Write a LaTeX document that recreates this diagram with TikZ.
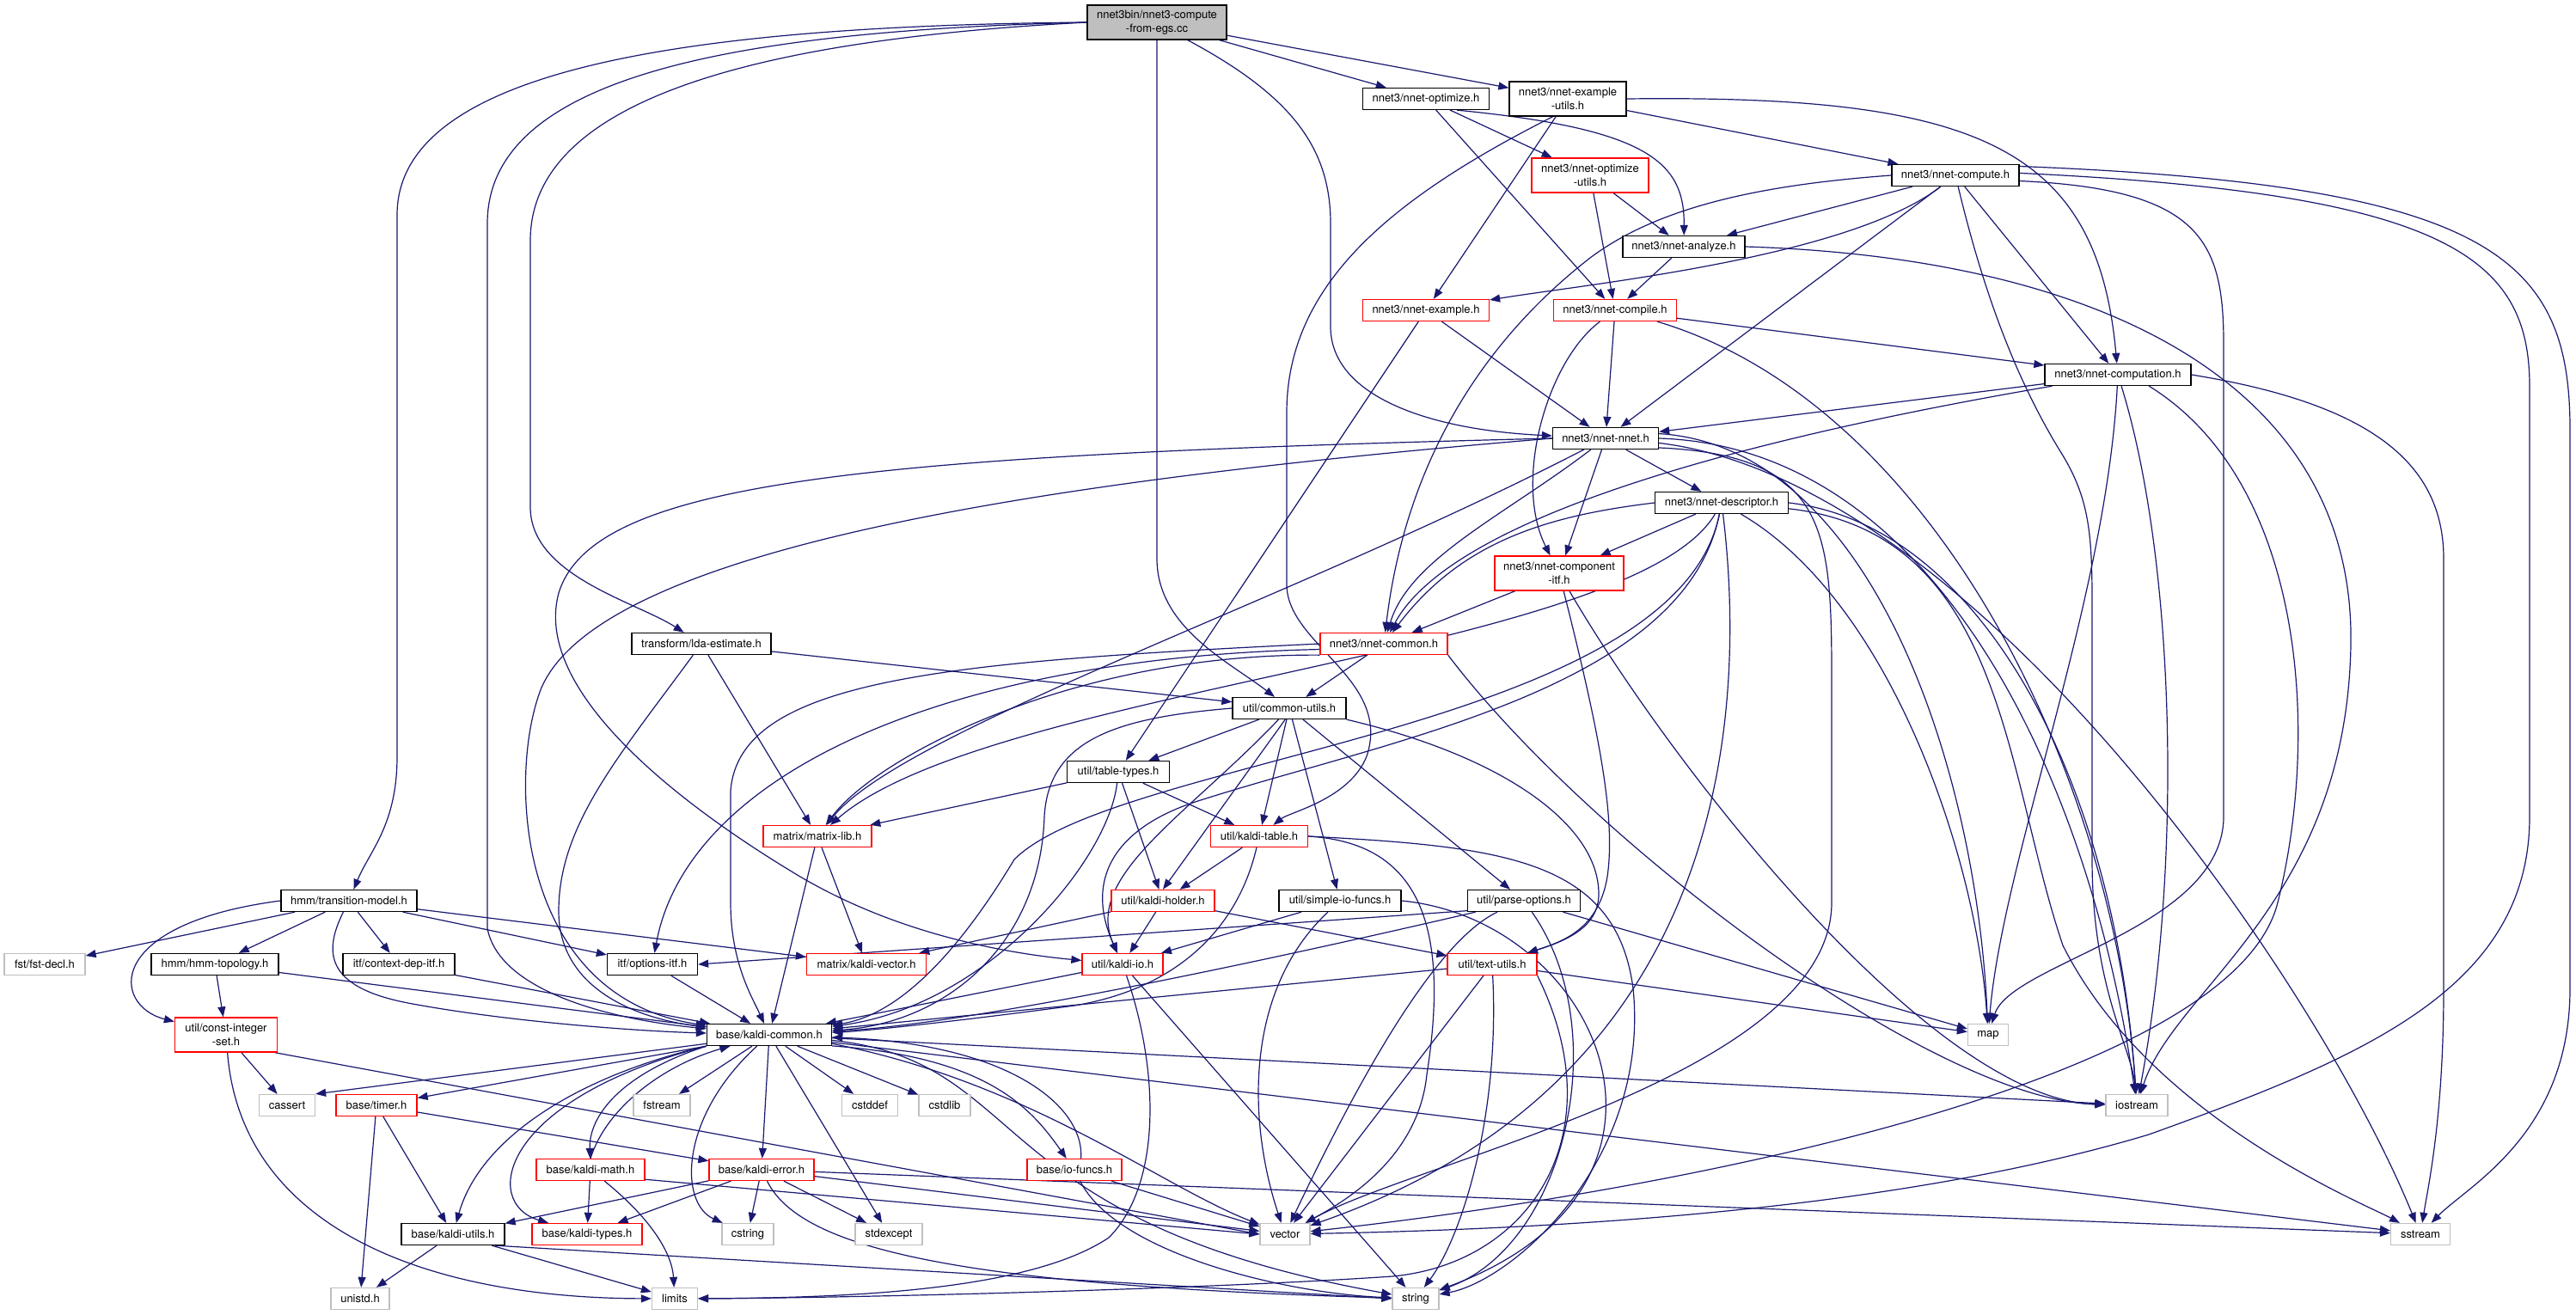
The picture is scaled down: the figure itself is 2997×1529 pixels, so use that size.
\documentclass[tikz,border=0pt]{standalone}
\usepackage{fontspec}
\setmainfont{TeX Gyre Heros}
\usetikzlibrary{arrows.meta,backgrounds}
\definecolor{edgec}{HTML}{191970}
\definecolor{lgray}{HTML}{BFBFBF}
\definecolor{rootfill}{HTML}{BFBFBF}
\tikzset{
  bx/.style={draw=black, line width=1.3pt, fill=white, font=\fontsize{13}{15.5}\selectfont, inner xsep=2pt, inner ysep=0pt, minimum height=25pt, align=center, text=black},
  rbx/.style={bx, draw=red},
  gbx/.style={bx, draw=lgray},
  two/.style={minimum height=40pt},
  edg/.style={draw=edgec, line width=1.2pt, -{Triangle[length=12pt,width=9pt]}},
}
\begin{document}
\begin{tikzpicture}[x=1pt,y=-1pt]
\useasboundingbox (0,0) rectangle (2997,1529);
% ---------------- nodes ----------------
\node[bx, fill=rootfill, two, minimum width=162pt] (root) at (1346,26) {nnet3bin/nnet3-compute\\-from-egs.cc};
\node[bx, minimum width=147pt] (opt) at (1659,115) {nnet3/nnet-optimize.h};
\node[bx, two, minimum width=136pt] (exutils) at (1824,115) {nnet3/nnet-example\\-utils.h};
\node[rbx, two, minimum width=136pt] (optutils) at (1850,204) {nnet3/nnet-optimize\\-utils.h};
\node[bx, minimum width=148pt] (compute) at (2275,204) {nnet3/nnet-compute.h};
\node[bx, minimum width=142pt] (analyze) at (1959,287) {nnet3/nnet-analyze.h};
\node[rbx, minimum width=147pt] (example) at (1659,361) {nnet3/nnet-example.h};
\node[rbx, minimum width=143pt] (compile) at (1879,361) {nnet3/nnet-compile.h};
\node[bx, minimum width=170pt] (computation) at (2464,436) {nnet3/nnet-computation.h};
\node[bx, minimum width=123pt] (nnet) at (1868,510) {nnet3/nnet-nnet.h};
\node[bx, minimum width=155pt] (descriptor) at (2003,585) {nnet3/nnet-descriptor.h};
\node[rbx, two, minimum width=150pt] (compitf) at (1814,667) {nnet3/nnet-component\\-itf.h};
\node[rbx, minimum width=148pt] (common) at (1610,749) {nnet3/nnet-common.h};
\node[bx, minimum width=162pt] (lda) at (816,749) {transform/lda-estimate.h};
\node[bx, minimum width=132pt] (cutils) at (1500,824) {util/common-utils.h};
\node[bx, minimum width=119pt] (ttypes) at (1301,898) {util/table-types.h};
\node[rbx, minimum width=126pt] (mlib) at (951,973) {matrix/matrix-lib.h};
\node[rbx, minimum width=113pt] (ktable) at (1465,973) {util/kaldi-table.h};
\node[bx, minimum width=158pt] (tmodel) at (406,1048) {hmm/transition-model.h};
\node[rbx, minimum width=120pt] (holder) at (1353,1048) {util/kaldi-holder.h};
\node[bx, minimum width=142pt] (simpleio) at (1559,1048) {util/simple-io-funcs.h};
\node[bx, minimum width=131pt] (parseopt) at (1773,1048) {util/parse-options.h};
\node[gbx, minimum width=94pt] (fstdecl) at (52,1122) {fst/fst-decl.h};
\node[bx, minimum width=148pt] (topo) at (250,1122) {hmm/hmm-topology.h};
\node[bx, minimum width=130pt] (ctxdep) at (464,1122) {itf/context-dep-itf.h};
\node[bx, minimum width=105pt] (optitf) at (759,1122) {itf/options-itf.h};
\node[rbx, minimum width=139pt] (kvector) at (1008,1122) {matrix/kaldi-vector.h};
\node[rbx, minimum width=94pt] (kio) at (1306,1122) {util/kaldi-io.h};
\node[rbx, minimum width=104pt] (textutils) at (1736,1122) {util/text-utils.h};
\node[rbx, two, minimum width=119pt] (cintset) at (263,1204) {util/const-integer\\-set.h};
\node[bx, minimum width=145pt] (kcommon) at (895,1204) {base/kaldi-common.h};
\node[gbx, minimum width=47pt] (map) at (2313,1204) {map};
\node[gbx, minimum width=65pt] (cassert) at (334,1286) {cassert};
\node[rbx, minimum width=94pt] (timer) at (438,1286) {base/timer.h};
\node[gbx, minimum width=66pt] (fstream) at (770,1286) {fstream};
\node[gbx, minimum width=65pt] (cstddef) at (1012,1286) {cstddef};
\node[gbx, minimum width=60pt] (cstdlib) at (1099,1286) {cstdlib};
\node[gbx, minimum width=72pt] (iostream) at (2486,1286) {iostream};
\node[rbx, minimum width=126pt] (kmath) at (687,1361) {base/kaldi-math.h};
\node[rbx, minimum width=122pt] (kerror) at (886,1361) {base/kaldi-error.h};
\node[rbx, minimum width=110pt] (iofuncs) at (1250,1361) {base/io-funcs.h};
\node[bx, minimum width=120pt] (kutils) at (527,1436) {base/kaldi-utils.h};
\node[rbx, minimum width=128pt] (ktypes) at (683,1436) {base/kaldi-types.h};
\node[gbx, minimum width=60pt] (cstring) at (870,1436) {cstring};
\node[gbx, minimum width=78pt] (stdexcept) at (1034,1436) {stdexcept};
\node[gbx, minimum width=58pt] (vector) at (1495,1436) {vector};
\node[gbx, minimum width=69pt] (sstream) at (2816,1436) {sstream};
\node[gbx, minimum width=68pt] (unistd) at (419,1511) {unistd.h};
\node[gbx, minimum width=53pt] (limits) at (785,1511) {limits};
\node[gbx, minimum width=54pt] (string) at (1647,1511) {string};
% ---------------- edges ----------------
\begin{pgfonlayer}{background}
\fill[white] (0,0) rectangle (2997,1529);
% root
\draw[edg] (root) -- (opt);
\draw[edg] (root) -- (exutils);
\draw[edg] (root.west) .. controls (800,30) and (462,80) .. (462,250) -- (462,880) .. controls (462,960) and (430,990) .. (tmodel);
\draw[edg] (root.west) .. controls (850,36) and (567,90) .. (567,260) -- (567,1080) .. controls (580,1150) and (700,1185) .. (kcommon);
\draw[edg] (root.west) .. controls (900,45) and (617,110) .. (617,280) -- (617,590) .. controls (617,670) and (740,700) .. (lda);
\draw[edg] (root.south) -- (1346,650) .. controls (1346,730) and (1430,770) .. (cutils);
\draw[edg] (root.-30) .. controls (1500,110) and (1548,170) .. (1548,260) -- (1548,380) .. controls (1548,460) and (1660,500) .. (nnet);
% nnet-optimize
\draw[edg] (opt) -- (optutils);
\draw[edg] (opt) -- (compile);
\draw[edg] (opt.-20) .. controls (1920,150) and (1960,190) .. (analyze);
% nnet-example-utils
\draw[edg] (exutils) -- (example);
\draw[edg] (exutils) -- (compute);
\draw[edg] (exutils.east) .. controls (2300,110) and (2440,170) .. (computation);
\draw[edg] (exutils.-130) .. controls (1620,230) and (1497,330) .. (1497,480) -- (1497,680) .. controls (1497,750) and (1620,790) .. (1590,880) .. controls (1570,930) and (1500,945) .. (ktable);
% nnet-optimize-utils
\draw[edg] (optutils) -- (analyze);
\draw[edg] (optutils) -- (compile);
% nnet-compute
\draw[edg] (compute) -- (analyze);
\draw[edg] (compute) .. controls (2150,300) and (1850,330) .. (example);
\draw[edg] (compute.west) .. controls (2050,215) and (1930,240) .. (1850,300) .. controls (1760,370) and (1640,500) .. (common);
\draw[edg] (compute) -- (nnet);
\draw[edg] (compute) -- (computation);
\draw[edg] (compute) .. controls (2310,350) and (2350,450) .. (2400,530) .. controls (2430,580) and (2434,620) .. (2434,700) -- (2434,1000) .. controls (2434,1150) and (2480,1220) .. (iostream);
\draw[edg] (compute.-5) .. controls (2560,220) and (2587,280) .. (2587,400) -- (2587,950) .. controls (2587,1080) and (2340,1120) .. (map);
\draw[edg] (compute.2) .. controls (2850,225) and (2943,300) .. (2943,450) -- (2943,950) .. controls (2943,1150) and (2750,1230) .. (2500,1320) .. controls (2200,1410) and (1800,1430) .. (vector);
\draw[edg] (compute.8) .. controls (2900,215) and (2990,300) .. (2990,500) -- (2990,1150) .. controls (2990,1320) and (2870,1380) .. (sstream);
% nnet-computation
\draw[edg] (computation) -- (nnet);
\draw[edg] (computation) .. controls (2150,490) and (1700,580) .. (common);
\draw[edg] (computation) .. controls (2450,700) and (2330,1000) .. (map);
\draw[edg] (computation) .. controls (2530,650) and (2540,1000) .. (iostream);
\draw[edg] (computation.-20) .. controls (2680,560) and (2700,850) .. (2650,1050) .. controls (2600,1250) and (2000,1380) .. (vector);
\draw[edg] (computation.east) .. controls (2760,470) and (2843,540) .. (2843,650) -- (2843,1150) .. controls (2843,1300) and (2825,1380) .. (sstream);
% nnet-nnet
\draw[edg] (nnet.west) .. controls (1200,560) and (700,640) .. (630,800) .. controls (590,900) and (600,1160) .. (kcommon);
\draw[edg] (nnet.west) .. controls (1000,530) and (690,560) .. (650,690) .. controls (620,800) and (780,930) .. (931,1020) .. controls (1050,1090) and (1180,1110) .. (kio);
\draw[edg] (nnet) .. controls (1500,700) and (1050,850) .. (mlib);
\draw[edg] (nnet) .. controls (1750,600) and (1640,650) .. (common);
\draw[edg] (nnet) -- (compitf);
\draw[edg] (nnet) -- (descriptor);
\draw[edg] (nnet.5) .. controls (2180,520) and (2300,900) .. (map);
\draw[edg] (nnet.0) .. controls (2250,520) and (2430,900) .. (iostream);
\draw[edg] (nnet.-5) .. controls (2300,560) and (2700,1150) .. (sstream);
\draw[edg] (nnet.-10) .. controls (2130,530) and (2131,620) .. (2131,800) -- (2131,1050) .. controls (2131,1250) and (1650,1350) .. (vector);
% nnet-descriptor
\draw[edg] (descriptor) -- (compitf);
\draw[edg] (descriptor.west) .. controls (1800,600) and (1700,630) .. (common);
\draw[edg] (descriptor) .. controls (1900,760) and (1150,800) .. (mlib);
\draw[edg] (descriptor) .. controls (1960,800) and (1620,860) .. (1400,930) .. controls (1300,960) and (1260,1020) .. (kio);
\draw[edg] (descriptor) .. controls (1950,850) and (1300,880) .. (1180,1000) .. controls (1120,1100) and (1050,1180) .. (kcommon);
\draw[edg] (descriptor.east) .. controls (2300,610) and (2460,900) .. (iostream);
\draw[edg] (descriptor.-5) .. controls (2332,620) and (2332,900) .. (2400,1100) .. controls (2500,1300) and (2750,1400) .. (sstream);
\draw[edg] (descriptor) .. controls (2029,800) and (2029,1250) .. (vector);
\draw[edg] (descriptor) .. controls (2200,700) and (2300,1000) .. (map);
% nnet-component-itf
\draw[edg] (compitf) -- (common);
\draw[edg] (compitf) .. controls (1860,850) and (1880,950) .. (1870,1020) .. controls (1860,1080) and (1820,1095) .. (textutils);
\draw[edg] (compitf.-60) .. controls (1950,900) and (2250,1280) .. (iostream);
% nnet-common
\draw[edg] (common) -- (cutils);
\draw[edg] (common.south east) .. controls (1850,980) and (2250,1280) .. (iostream);
\draw[edg] (common.west) .. controls (1100,770) and (860,790) .. (850,920) -- (850,1050) .. controls (850,1120) and (875,1160) .. (kcommon);
\draw[edg] (common.-175) .. controls (1100,765) and (800,900) .. (optitf);
\draw[edg] (common.-170) .. controls (1250,760) and (1020,880) .. (mlib);
% lda-estimate
\draw[edg] (lda) -- (cutils);
\draw[edg] (lda) -- (mlib);
\draw[edg] (lda) .. controls (720,880) and (650,960) .. (650,1060) .. controls (650,1150) and (740,1185) .. (kcommon);
% common-utils
\draw[edg] (cutils) -- (ttypes);
\draw[edg] (cutils.-110) -- (holder.north);
\draw[edg] (cutils) .. controls (1380,950) and (1260,1020) .. (kio);
\draw[edg] (cutils) -- (ktable);
\draw[edg] (cutils) -- (simpleio);
\draw[edg] (cutils) -- (parseopt);
\draw[edg] (cutils.south east) .. controls (1750,880) and (1860,960) .. (1860,1040) .. controls (1860,1080) and (1820,1095) .. (textutils);
\draw[edg] (cutils.west) .. controls (1300,835) and (1220,860) .. (1215,950) .. controls (1210,1100) and (1100,1190) .. (kcommon);
% table-types
\draw[edg] (ttypes) -- (mlib);
\draw[edg] (ttypes) -- (ktable);
\draw[edg] (ttypes) -- (holder);
\draw[edg] (ttypes) .. controls (1290,1000) and (1150,1170) .. (kcommon);
% matrix-lib
\draw[edg] (mlib) -- (kcommon);
\draw[edg] (mlib) -- (kvector);
% kaldi-table
\draw[edg] (ktable) -- (holder);
\draw[edg] (ktable) .. controls (1440,1080) and (1370,1150) .. (1250,1170) .. controls (1100,1190) and (1000,1200) .. (kcommon);
\draw[edg] (ktable.east) .. controls (1640,980) and (1690,1060) .. (1660,1250) .. controls (1650,1350) and (1560,1400) .. (vector);
\draw[edg] (ktable.east) .. controls (1750,985) and (1880,1000) .. (1900,1150) .. controls (1920,1350) and (1760,1490) .. (string);
% kaldi-holder
\draw[edg] (holder) -- (kvector);
\draw[edg] (holder) -- (kio);
\draw[edg] (holder) -- (textutils);
% simple-io-funcs
\draw[edg] (simpleio) -- (kio);
\draw[edg] (simpleio) .. controls (1450,1150) and (1450,1300) .. (vector);
\draw[edg] (simpleio.east) .. controls (1860,1070) and (2000,1380) .. (string);
% parse-options
\draw[edg] (parseopt.-170) -- (optitf.east);
\draw[edg] (parseopt) .. controls (1550,1100) and (1150,1190) .. (kcommon);
\draw[edg] (parseopt.-157) .. controls (1660,1100) and (1560,1300) .. (vector);
\draw[edg] (parseopt) .. controls (1880,1200) and (1820,1450) .. (string);
\draw[edg] (parseopt) -- (map);
% text-utils
\draw[edg] (textutils) -- (kcommon);
\draw[edg] (textutils) -- (map);
\draw[edg] (textutils) -- (vector);
\draw[edg] (textutils) .. controls (1745,1300) and (1700,1440) .. (string);
\draw[edg] (textutils.south east) .. controls (1880,1320) and (1780,1470) .. (1620,1485) .. controls (1400,1500) and (1000,1510) .. (limits);
% kaldi-io
\draw[edg] (kio) -- (kcommon);
\draw[edg] (kio) .. controls (1350,1250) and (1350,1380) .. (1290,1440) .. controls (1200,1500) and (1000,1510) .. (limits);
\draw[edg] (kio) -- (string);
% transition-model
\draw[edg] (tmodel) -- (fstdecl);
\draw[edg] (tmodel) -- (topo);
\draw[edg] (tmodel) -- (ctxdep);
\draw[edg] (tmodel) -- (optitf);
\draw[edg] (tmodel) -- (kvector);
\draw[edg] (tmodel) .. controls (375,1110) and (380,1150) .. (480,1168) .. controls (600,1190) and (750,1200) .. (kcommon);
\draw[edg] (tmodel.west) .. controls (120,1075) and (130,1170) .. (cintset);
% hmm-topology, itf
\draw[edg] (topo) -- (cintset);
\draw[edg] (topo) -- (kcommon);
\draw[edg] (ctxdep) -- (kcommon);
\draw[edg] (optitf) -- (kcommon);
% const-integer-set
\draw[edg] (cintset) -- (cassert);
\draw[edg] (cintset.-20) -- (vector.west);
\draw[edg] (cintset) .. controls (280,1420) and (480,1510) .. (limits);
% kaldi-common
\draw[edg] (kcommon.-172) -- (cassert.north east);
\draw[edg] (kcommon) -- (timer);
\draw[edg] (kcommon) -- (fstream);
\draw[edg] (kcommon) -- (cstddef);
\draw[edg] (kcommon) -- (cstdlib);
\draw[edg] (kcommon.south west) .. controls (720,1250) and (685,1300) .. (kmath);
\draw[edg] (kcommon) -- (kerror);
\draw[edg] (kcommon.-10) .. controls (1150,1230) and (1200,1290) .. (iofuncs);
\draw[edg] (kcommon.south west) .. controls (680,1250) and (560,1320) .. (kutils);
\draw[edg] (kcommon.south west) .. controls (580,1280) and (560,1400) .. (ktypes);
\draw[edg] (kcommon) .. controls (790,1300) and (790,1400) .. (cstring);
\draw[edg] (kcommon) -- (stdexcept);
\draw[edg] (kcommon.-8) .. controls (1200,1260) and (1350,1380) .. (vector);
\draw[edg] (kcommon.-5) .. controls (1200,1235) and (1140,1420) .. (string);
\draw[edg] (kcommon) -- (iostream);
\draw[edg] (kcommon) -- (sstream);
% timer
\draw[edg] (timer) -- (unistd);
\draw[edg] (timer) -- (kutils);
\draw[edg] (timer) -- (kerror);
% kaldi-math
\draw[edg] (kmath) -- (ktypes);
\draw[edg] (kmath) .. controls (760,1420) and (782,1460) .. (limits);
\draw[edg] (kmath.-10) -- (vector.west);
\draw[edg] (kmath.north) .. controls (705,1290) and (770,1240) .. (kcommon);
% kaldi-error
\draw[edg] (kerror) -- (kutils);
\draw[edg] (kerror) -- (ktypes);
\draw[edg] (kerror) -- (cstring);
\draw[edg] (kerror) -- (stdexcept);
\draw[edg] (kerror) .. controls (930,1450) and (1100,1495) .. (string);
\draw[edg] (kerror) -- (vector);
\draw[edg] (kerror) -- (sstream);
% io-funcs
\draw[edg] (iofuncs.60) .. controls (1262,1290) and (1180,1215) .. (kcommon);
\draw[edg] (iofuncs) -- (vector);
\draw[edg] (iofuncs) .. controls (1300,1460) and (1500,1505) .. (string);
% kaldi-utils
\draw[edg] (kutils) -- (unistd);
\draw[edg] (kutils) -- (limits);
\draw[edg] (kutils.-15) -- (string.west);
% nnet-example
\draw[edg] (example) -- (nnet);
\draw[edg] (example) -- (ttypes);
% nnet-compile
\draw[edg] (compile) .. controls (1800,420) and (1760,560) .. (compitf);
\draw[edg] (compile) -- (nnet);
\draw[edg] (compile) -- (computation);
\draw[edg] (compile.-15) .. controls (2250,470) and (2460,900) .. (iostream);
% nnet-analyze
\draw[edg] (analyze) -- (compile);
\draw[edg] (analyze.east) .. controls (2450,300) and (2740,450) .. (2735,750) .. controls (2730,1050) and (2530,1150) .. (iostream);
\end{pgfonlayer}
\end{tikzpicture}
\end{document}
